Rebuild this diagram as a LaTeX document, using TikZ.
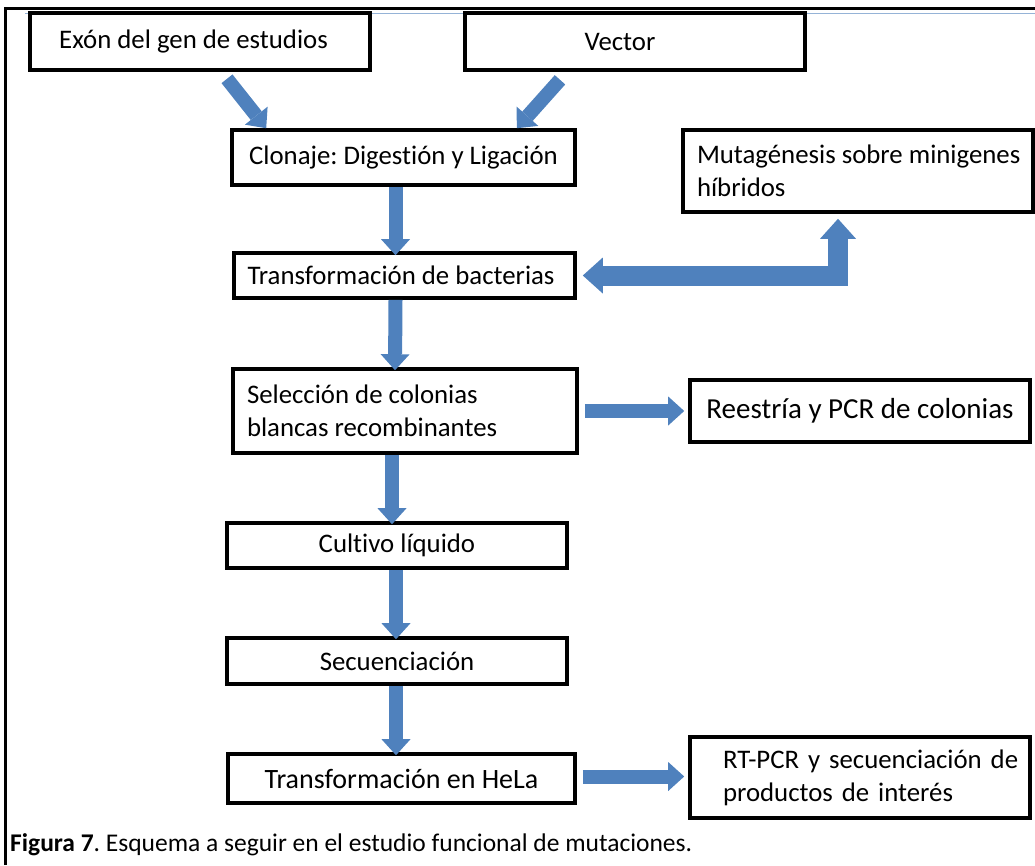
\documentclass[tikz,border=0pt]{standalone}
\usepackage{fontspec}
\setmainfont[Ligatures=NoCommon]{Carlito}
\frenchspacing
\usetikzlibrary{arrows.meta,calc}
\definecolor{arrblue}{HTML}{4F81BD}
\definecolor{lineblue}{HTML}{95B3D7}
\tikzset{
  box/.style={draw=black, line width=3.6pt, fill=white, inner sep=0pt, font=\fontsize{26.8}{33}\selectfont},
  barrow/.style={draw=arrblue, line width=14pt, -{Triangle[width=29pt,length=16pt,line width=0pt]}},
  bigarrow/.style={draw=arrblue, line width=20pt, line join=miter,
     {Triangle[width=36pt,length=20pt,line width=0pt]}-{Triangle[width=36pt,length=20pt,line width=0pt]}},
}
\begin{document}
\begin{tikzpicture}[x=1pt,y=-1pt]
\useasboundingbox (0,0) rectangle (1035,865);
% frame
\coordinate (fbl) at (5,865);
\coordinate (ftl) at (5,8);
\coordinate (ftr) at (1035,8);
\draw[line width=3pt] (fbl) -- (ftl) -- (ftr);
\draw[lineblue, line width=1pt] (25,13.5) -- (1035,13.5);

\node[box, minimum width=340pt, minimum height=57pt] (exon) at (200,41.5) {\hspace*{-13pt}Exón del gen de estudios};
\node[box, minimum width=340pt, minimum height=57pt] (vector) at (635,41.5) {\hspace*{-30pt}Vector};
\node[box, minimum width=343pt, minimum height=55pt] (clon) at (403.5,157.5) {Clonaje: Digestión y Ligación};
\node[box, minimum width=350pt, minimum height=82pt, text width=340pt, align=flush left] (muta) at (858,171) {\hspace*{9pt}Mutagénesis sobre minigenes\\\hspace*{9pt}híbridos};
\node[box, minimum width=341pt, minimum height=45pt] (trans) at (404.5,275.5) {\hspace*{-7pt}Transformación de bacterias};
\node[box, minimum width=344pt, minimum height=84pt, text width=316pt, align=flush left] (sel) at (405,411) {Selección de colonias\\blancas recombinantes};
\node[box, minimum width=340pt, minimum height=62pt, font=\fontsize{29}{33}\selectfont] (reest) at (860,411) {Reestría y PCR de colonias};
\node[box, minimum width=340pt, minimum height=45pt] (cult) at (397,545.5) {Cultivo líquido};
\node[box, minimum width=340pt, minimum height=46pt] (sec) at (397,661) {Secuenciación};
\node[box, minimum width=347pt, minimum height=49pt, font=\fontsize{28}{33}\selectfont] (hela) at (401.5,778.5) {Transformación en HeLa};
\node[box, minimum width=340pt, minimum height=81pt, text width=320pt, align=left] (rt) at (860,777.5) {\hspace*{23pt}RT-PCR y secuenciación de\\\hspace*{23pt}productos de interés};

% arrows
\draw[barrow] ([xshift=27pt,yshift=-7pt]exon.south) -- ([xshift=36pt,yshift=0pt]clon.north west);
\draw[barrow] ([xshift=-75pt,yshift=-8pt]vector.south) -- ([xshift=-60pt,yshift=0pt]clon.north east);
\draw[barrow] ([xshift=-8pt]clon.south) -- ([xshift=-9pt,yshift=-4pt]trans.north);
\draw[barrow] ([xshift=-9pt]trans.south) -- ([xshift=-10pt,yshift=-3pt]sel.north);
\draw[barrow] ([xshift=-13pt]sel.south) -- ([xshift=-5pt,yshift=-3pt]cult.north);
\draw[barrow] ([xshift=-1pt]cult.south) -- ([xshift=-1pt,yshift=-3pt]sec.north);
\draw[barrow] ([xshift=-1pt]sec.south) -- ([xshift=-5.5pt,yshift=-3pt]hela.north);
\draw[barrow] ([xshift=6pt]sel.east) -- ([xshift=-4pt]reest.west);
\draw[barrow] ([xshift=6pt,yshift=2pt]hela.east) -- ([xshift=-4pt,yshift=1pt]rt.west);
\coordinate (bend) at ($(muta.south)+(-20,0)$);
\draw[bigarrow] ([xshift=6pt]trans.east) -- (bend |- trans.east) -- ([yshift=-5pt]bend);

\node[anchor=base west, inner sep=0pt, font=\fontsize{25.5}{30}\selectfont] (cap) at (10,851) {\textbf{Figura 7}. Esquema a seguir en el estudio funcional de mutaciones.};
\end{tikzpicture}
\end{document}
